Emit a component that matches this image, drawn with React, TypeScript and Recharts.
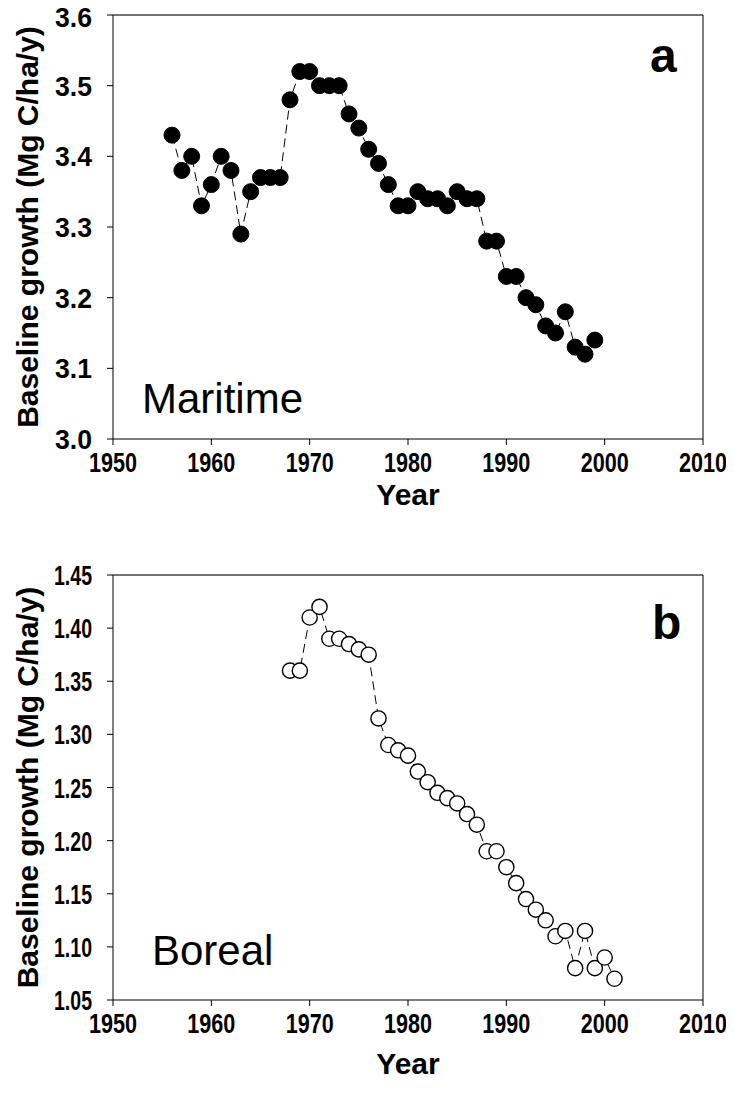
import React from 'react';
import { LineChart, Line, XAxis, YAxis, ReferenceLine, Label } from 'recharts';

// ---- Data ----
const maritimeYears = [1956, 1957, 1958, 1959, 1960, 1961, 1962, 1963, 1964, 1965, 1966, 1967, 1968, 1969, 1970, 1971, 1972, 1973, 1974, 1975, 1976, 1977, 1978, 1979, 1980, 1981, 1982, 1983, 1984, 1985, 1986, 1987, 1988, 1989, 1990, 1991, 1992, 1993, 1994, 1995, 1996, 1997, 1998, 1999];
const maritimeValues = [3.43, 3.38, 3.40, 3.33, 3.36, 3.40, 3.38, 3.29, 3.35, 3.37, 3.37, 3.37, 3.48, 3.52, 3.52, 3.50, 3.50, 3.50, 3.46, 3.44, 3.41, 3.39, 3.36, 3.33, 3.33, 3.35, 3.34, 3.34, 3.33, 3.35, 3.34, 3.34, 3.28, 3.28, 3.23, 3.23, 3.20, 3.19, 3.16, 3.15, 3.18, 3.13, 3.12, 3.14];

const borealYears = [1968, 1969, 1970, 1971, 1972, 1973, 1974, 1975, 1976, 1977, 1978, 1979, 1980, 1981, 1982, 1983, 1984, 1985, 1986, 1987, 1988, 1989, 1990, 1991, 1992, 1993, 1994, 1995, 1996, 1997, 1998, 1999, 2000, 2001];
const borealValues = [1.36, 1.36, 1.41, 1.42, 1.39, 1.39, 1.385, 1.38, 1.375, 1.315, 1.29, 1.285, 1.28, 1.265, 1.255, 1.245, 1.24, 1.235, 1.225, 1.215, 1.19, 1.19, 1.175, 1.16, 1.145, 1.135, 1.125, 1.11, 1.115, 1.08, 1.115, 1.08, 1.09, 1.07];

const yearTicks = [1950, 1960, 1970, 1980, 1990, 2000, 2010];
const maritimeTicks = [3.0, 3.1, 3.2, 3.3, 3.4, 3.5, 3.6];
const borealTicks = [1.05, 1.10, 1.15, 1.20, 1.25, 1.30, 1.35, 1.40, 1.45];

const yTitle = 'Baseline growth (Mg C/ha/y)';
const xTitle = 'Year';

const maritimeData = maritimeYears.map((year, i) => ({ year, value: maritimeValues[i] }));
const borealData = borealYears.map((year, i) => ({ year, value: borealValues[i] }));

const FONT = '"Liberation Sans", Arial, Helvetica, sans-serif';
const W = 726;

const makeXTick = (len: number) => (props: any) => {
  const { x, y, payload } = props;
  return (
    <text x={x} y={y} dy={25} textAnchor="middle" fontFamily={FONT} fontWeight="bold" fontSize={28}
      fill="#000" textLength={len} lengthAdjust="spacingAndGlyphs">{String(payload.value)}</text>
  );
};

const makeYTick = (digits: number, len: number) => (props: any) => {
  const { x, y, payload } = props;
  return (
    <text x={x - 13} y={y} dy={10} textAnchor="end" fontFamily={FONT} fontWeight="bold" fontSize={27}
      fill="#000" textLength={len} lengthAdjust="spacingAndGlyphs">{Number(payload.value).toFixed(digits)}</text>
  );
};

const renderYTitle = (props: any) => {
  const vb = props.viewBox || { x: 0, y: 0, width: 105, height: 424 };
  const cx = 19;
  const cy = vb.y + vb.height / 2;
  return (
    <text x={cx} y={cy} dy="0.35em" textAnchor="middle" fontFamily={FONT} fontWeight="bold" fontSize={30}
      fill="#000" transform={`rotate(-90, ${cx}, ${cy})`}>{yTitle}</text>
  );
};

const makeXTitle = (offset: number) => (props: any) => {
  const vb = props.viewBox || { x: 105, y: 431, width: 590, height: 100 };
  return (
    <text x={vb.x + vb.width / 2} y={vb.y + offset} textAnchor="middle" fontFamily={FONT} fontWeight="bold" fontSize={30}
      fill="#000">{xTitle}</text>
  );
};

interface PanelProps {
  data: { year: number; value: number }[];
  yTicks: number[];
  digits: number;
  yLen: number;
  height: number;
  top: number;
  xAxisHeight: number;
  bottom: number;
  titleOffset: number;
  filled: boolean;
  letter: string;
  letterPos: [number, number];
  name: string;
  namePos: [number, number];
}

const Panel = (p: PanelProps) => {
  const yMin = p.yTicks[0];
  const yMax = p.yTicks[p.yTicks.length - 1];
  return (
    <div style={{ position: 'relative', width: W, height: p.height }}>
      <LineChart width={W} height={p.height} data={p.data}
        margin={{ top: p.top, right: 31, left: 0, bottom: p.bottom }}>
        <XAxis dataKey="year" type="number" domain={[1950, 2010]} ticks={yearTicks} allowDataOverflow
          height={p.xAxisHeight} tickSize={6} stroke="#000" tick={makeXTick(48)}
          axisLine={{ stroke: '#000', strokeWidth: 1 }} tickLine={{ stroke: '#000' }}>
          <Label content={makeXTitle(p.titleOffset)} />
        </XAxis>
        <YAxis type="number" domain={[yMin, yMax]} ticks={p.yTicks} allowDataOverflow width={105}
          tickSize={6} stroke="#000" tick={makeYTick(p.digits, p.yLen)}
          axisLine={{ stroke: '#000', strokeWidth: 1 }} tickLine={{ stroke: '#000' }}>
          <Label content={renderYTitle} />
        </YAxis>
        <ReferenceLine y={yMax} stroke="#444" strokeWidth={1.5} ifOverflow="visible" />
        <ReferenceLine x={2010} stroke="#000" strokeWidth={1} ifOverflow="visible" />
        <Line type="linear" dataKey="value" stroke="#000" strokeWidth={1} strokeDasharray="9 5"
          isAnimationActive={false}
          dot={p.filled
            ? { r: 8, fill: '#000', stroke: '#000', strokeWidth: 1, strokeDasharray: '0' }
            : { r: 7.6, fill: '#fff', stroke: '#000', strokeWidth: 1.4, strokeDasharray: '0' }}
          activeDot={false} />
      </LineChart>
      <svg width={W} height={p.height} style={{ position: 'absolute', left: 0, top: 0, pointerEvents: 'none' }}>
        <text x={p.letterPos[0]} y={p.letterPos[1]} fontFamily={FONT} fontWeight="bold" fontSize={48} fill="#000">{p.letter}</text>
        <text x={p.namePos[0]} y={p.namePos[1]} fontFamily={FONT} fontSize={42} fill="#000">{p.name}</text>
      </svg>
    </div>
  );
};

export default function App() {
  return (
    <div style={{ width: W, background: '#fff' }}>
      <Panel data={maritimeData} yTicks={maritimeTicks} digits={1} yLen={37} height={540} top={7}
        xAxisHeight={100} bottom={9} titleOffset={66} filled letter="a" letterPos={[642, 64]}
        name="Maritime" namePos={[134, 405]} />
      <Panel data={borealData} yTicks={borealTicks} digits={2} yLen={38} height={536} top={27}
        xAxisHeight={84} bottom={0} titleOffset={74} filled={false} letter="b" letterPos={[644, 91]}
        name="Boreal" namePos={[144, 417]} />
    </div>
  );
}
